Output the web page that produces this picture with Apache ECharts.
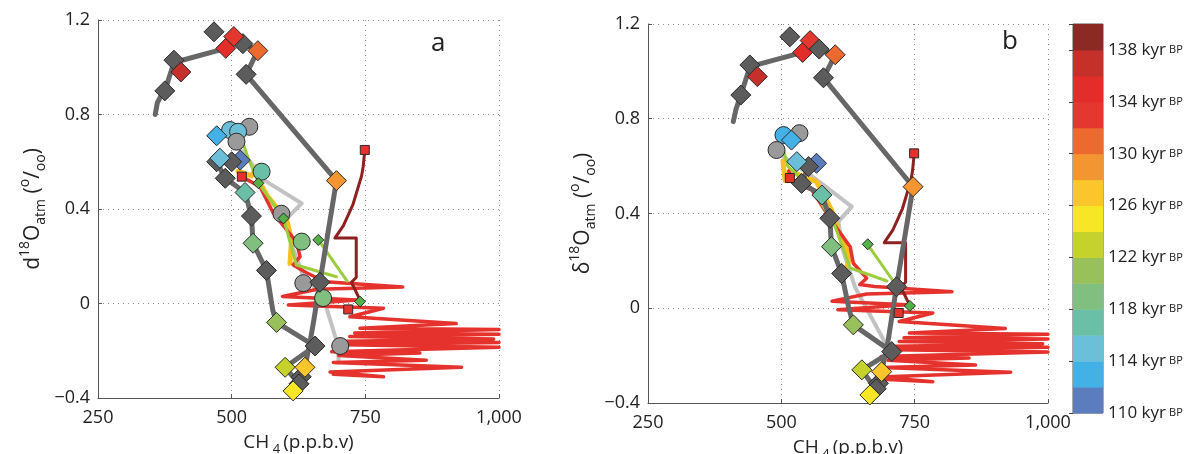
<!DOCTYPE html>
<html>
<head>
<meta charset="utf-8">
<script src="https://cdn.jsdelivr.net/npm/echarts@6/dist/echarts.min.js"></script>
<style>
    html, body {margin: 0; padding: 0; background: #fff;}
    #chart {width: 1187px; height: 454px;}
</style>
</head>
<body>
<div id="chart"></div>
<script>
    // colour scale (kyr BP)
    var ageEdges = [110, 112, 114, 116, 118, 120, 122, 124, 126, 128, 130, 132, 134, 136, 138, 140];
    var ageColors = ['#5b7dbd', '#44b1e6', '#6cbfd8', '#6bbfa7', '#80bf7f', '#98c15c', '#c5d22b', '#f7e626',
        '#fbc52c', '#f39530', '#ec6a2f', '#e4372f', '#e32d2a', '#c5302b', '#8b2a25'];
    var ageTicks = [110, 114, 118, 122, 126, 130, 134, 138];
    var ch4Ticks = [250, 500, 750, 1000];
    var d18oTicks = [-0.4, 0, 0.4, 0.8, 1.2];

    // panel a
    var grayPathA = [[357, 0.80], [361, 0.85], [368, 0.88], [375, 0.90], [385, 0.97], [392, 1.02], [489, 1.08], [504, 1.12],
        [521, 1.10], [549, 1.07], [527, 0.97], [696, 0.52], [665, 0.09], [653, -0.08], [646, -0.17], [637, -0.27],
        [630, -0.31], [615, -0.37], [626, -0.34], [600, -0.27], [656, -0.18], [584, -0.08], [577, -0.03], [565, 0.14],
        [540, 0.255], [537, 0.37], [525, 0.47], [488, 0.53], [472, 0.60], [500, 0.60]];
    var lightPathA = [[503, 0.69], [531, 0.61], [562, 0.52], [631, 0.424], [600, 0.353], [612, 0.25], [633, 0.12],
        [671, 0.029], [699, -0.18], [700, -0.25]];
    var yellowPathA = [[512, 0.56], [537, 0.54], [547, 0.58], [550, 0.52], [568, 0.452], [603, 0.353], [612, 0.27], [609, 0.17]];
    var redHeadA = [[519, 0.537], [553, 0.494], [578, 0.382], [603, 0.311], [621, 0.262], [628, 0.198], [615, 0.163],
        [640, 0.13], [675, 0.092]];
    var greenPathA = [[521, 0.68], [530, 0.62], [550, 0.51], [597, 0.36], [621, 0.163], [696, 0.113]];
    var diamondsA = [[375, 0.90, null], [392, 1.03, null], [405, 0.98, 137], [467, 1.15, null], [489, 1.08, 135],
        [521, 1.10, null], [504, 1.13, 133], [549, 1.07, 131], [527, 0.97, null], [696, 0.52, 129], [665, 0.09, null],
        [656, -0.18, null], [600, -0.27, 123], [630, -0.31, null], [626, -0.34, null], [637, -0.27, 127],
        [615, -0.37, 125], [584, -0.08, 121], [565, 0.14, null], [540, 0.255, 119], [537, 0.37, null],
        [525, 0.47, 117], [488, 0.53, null], [516, 0.607, 111], [472, 0.60, null], [500, 0.60, null],
        [478, 0.615, 115], [472, 0.71, 113]];
    var circlesA = [[533, 0.748, null], [497, 0.734, 115], [512, 0.727, 115], [509, 0.685, null], [556, 0.558, 117],
        [593, 0.38, null], [631, 0.262, 119], [634, 0.086, null], [671, 0.023, 119], [703, -0.18, null]];
    var smallGreenA = [[550, 0.509], [597, 0.36], [662, 0.269], [740, 0.008]];
    var squaresA = [[749, 0.65], [718, -0.025], [519, 0.537]];

    // panel b
    var grayPathB = [[410, 0.788], [415, 0.84], [424, 0.90], [434, 0.97], [441, 1.02], [540, 1.08], [554, 1.12],
        [571, 1.094], [601, 1.07], [579, 0.973], [747, 0.513], [716, 0.091], [700, -0.14], [688, -0.27],
        [682, -0.32], [666, -0.366], [676, -0.34], [651, -0.26], [707, -0.183], [635, -0.07], [626, 0.006],
        [613, 0.147], [594, 0.26], [591, 0.38], [576, 0.478], [538, 0.527], [551, 0.598], [529, 0.619]];
    var lightPathB = [[491, 0.668], [503, 0.64], [559, 0.555], [632, 0.429], [607, 0.366], [615, 0.25], [638, 0.09],
        [698, -0.16], [700, -0.20]];
    var yellowPathB = [[503, 0.62], [507, 0.54], [516, 0.58], [566, 0.534], [594, 0.415], [610, 0.302], [629, 0.217], [623, 0.175]];
    var redHeadB = [[514, 0.58], [520, 0.534], [557, 0.5], [597, 0.36], [629, 0.26], [635, 0.19], [660, 0.127],
        [647, 0.1], [675, 0.092]];
    var greenPathB = [[505, 0.66], [512, 0.6], [560, 0.5], [600, 0.35], [629, 0.17], [698, 0.115]];
    var diamondsB = [[424, 0.90, null], [441, 1.027, null], [455, 0.978, 137], [516, 1.146, null], [540, 1.08, 135],
        [554, 1.13, 133], [571, 1.094, null], [601, 1.07, 131], [579, 0.973, null], [747, 0.513, 129],
        [716, 0.091, null], [707, -0.183, null], [651, -0.26, 123], [682, -0.317, null], [678, -0.34, null],
        [688, -0.268, 127], [666, -0.366, 125], [635, -0.07, 121], [613, 0.147, null], [594, 0.26, 119],
        [591, 0.38, null], [576, 0.478, 117], [538, 0.527, null], [566, 0.612, 111], [551, 0.598, null],
        [529, 0.619, 115], [519, 0.71, 113]];
    var circlesB = [[534, 0.739, null], [504, 0.731, 113], [491, 0.668, null]];
    var smallGreenB = [[662, 0.27], [741, 0.01]];
    var squaresB = [[749, 0.654], [720, -0.02], [516, 0.55]];

    // shared ice-core traces
    var redZigzag = [[820, 0.07], [660, 0.06], [595, 0.03], [735, 0.015], [606, -0.006], [784, -0.02], [721, -0.056],
        [920, -0.085], [740, -0.105], [1000, -0.11], [730, -0.125], [1000, -0.13], [721, -0.14], [990, -0.15],
        [715, -0.16], [1000, -0.165], [710, -0.175], [1000, -0.185], [687, -0.204], [852, -0.21], [700, -0.22],
        [864, -0.24], [690, -0.25], [930, -0.27], [684, -0.29], [784, -0.31], [690, -0.30]];
    var darkRedPath = [[749, 0.65], [746, 0.58], [743, 0.54], [727, 0.42], [709, 0.33], [693, 0.277], [733, 0.277],
        [733, 0.11], [724, 0.09], [740, 0.015]];
    var greenPath2 = [[662, 0.269], [716, 0.095]];

    var FONT = '"Open Sans", "Noto Sans", sans-serif';

    function ageColor(age, fallback) {
        if (age == null) return fallback;
        for (var i = ageColors.length - 1; i >= 0; i--) {
            if (age >= ageEdges[i]) return ageColors[i];
        }
        return ageColors[0];
    }

    function line(idx, data, color, width, z) {
        return {
            type: 'line', xAxisIndex: idx, yAxisIndex: idx, data: data, symbol: 'none', z: z,
            lineStyle: {color: color, width: width, cap: 'round', join: 'round'}, silent: true
        };
    }

    function marks(idx, data, symbol, size, fallback, z) {
        return {
            type: 'scatter', xAxisIndex: idx, yAxisIndex: idx, symbol: symbol, symbolSize: size, z: z,
            itemStyle: {borderColor: '#2a2a2a', borderWidth: 1, opacity: 1},
            data: data.map(function (d) {
                return {value: [d[0], d[1]], itemStyle: {color: ageColor(d[2], fallback)}};
            })
        };
    }

    function panel(idx, p) {
        return [
            line(idx, p.light, '#c2c2c2', 4, 2),
            line(idx, p.yellow, '#fbbf22', 5, 3),
            line(idx, p.red.concat(redZigzag), '#e5322d', 3.5, 4),
            line(idx, p.green, '#9ccd3e', 3, 5),
            line(idx, greenPath2, '#9ccd3e', 3, 5),
            line(idx, darkRedPath, '#8e2020', 3, 5),
            line(idx, p.gray, '#676767', 5, 6),
            marks(idx, p.circles, 'circle', 17, '#9a9a9a', 7),
            marks(idx, p.diamonds, 'diamond', 20, '#5c5c5c', 8),
            marks(idx, p.smallGreen, 'diamond', 11, '#55b048', 9),
            marks(idx, p.squares, 'rect', 9, '#e5322d', 9)
        ];
    }

    function xAxisFor(idx) {
        return {
            gridIndex: idx, type: 'value', min: ch4Ticks[0], max: ch4Ticks[ch4Ticks.length - 1],
            interval: ch4Ticks[1] - ch4Ticks[0],
            axisLine: {show: true, onZero: false, lineStyle: {color: '#555', width: 1}},
            axisTick: {show: true, inside: true, length: 4, lineStyle: {color: '#555'}},
            axisLabel: {
                color: '#222', fontSize: 18, fontFamily: FONT, margin: 11,
                formatter: function (v) { return v >= 1000 ? '1,000' : String(v); }
            },
            splitLine: {show: true, lineStyle: {type: [1, 4], color: '#888', width: 1}},
            name: '{n|CH}{s| 4} {n|(p.p.b.v)}', nameLocation: 'middle', nameGap: 32,
            nameTextStyle: {
                color: '#222', fontFamily: FONT,
                rich: {
                    n: {fontSize: 19, fontFamily: FONT, color: '#222', lineHeight: 26},
                    s: {fontSize: 13, fontFamily: FONT, color: '#222', verticalAlign: 'bottom', lineHeight: 13}
                }
            }
        };
    }

    function yAxisFor(idx, delta) {
        return {
            gridIndex: idx, type: 'value', min: d18oTicks[0], max: d18oTicks[d18oTicks.length - 1],
            interval: d18oTicks[1] - d18oTicks[0],
            axisLine: {show: true, onZero: false, lineStyle: {color: '#555', width: 1}},
            axisTick: {show: true, inside: true, length: 4, lineStyle: {color: '#555'}},
            axisLabel: {
                color: '#222', fontSize: 18, fontFamily: FONT, margin: 8,
                formatter: function (v) {
                    v = Math.round(v * 10) / 10;
                    if (v === 0) return '0';
                    return v < 0 ? '\u2212' + (-v).toFixed(1) : v.toFixed(1);
                }
            },
            splitLine: {show: true, lineStyle: {type: [1, 4], color: '#888', width: 1}},
            name: '{m|' + delta + '}{p|18}{m|O}{b|atm}{m| (}{p|o}{m|/}{b|oo}{m|)}',
            nameLocation: 'middle', nameRotate: 90, nameGap: 50,
            nameTextStyle: {
                color: '#222', fontFamily: FONT,
                rich: {
                    m: {fontSize: 21, fontFamily: FONT, color: '#222', lineHeight: 30},
                    p: {fontSize: 14, fontFamily: FONT, color: '#222', verticalAlign: 'top', lineHeight: 14},
                    b: {fontSize: 14, fontFamily: FONT, color: '#222', verticalAlign: 'bottom', lineHeight: 14}
                }
            }
        };
    }

    var myChart = echarts.init(document.getElementById('chart'));

    var bands = [];
    for (var i = 0; i < ageColors.length; i++) {
        bands.push([ageEdges[i], ageEdges[i + 1], i]);
    }

    var series = panel(0, {
        gray: grayPathA, light: lightPathA, yellow: yellowPathA, red: redHeadA, green: greenPathA,
        diamonds: diamondsA, circles: circlesA, smallGreen: smallGreenA, squares: squaresA
    }).concat(panel(1, {
        gray: grayPathB, light: lightPathB, yellow: yellowPathB, red: redHeadB, green: greenPathB,
        diamonds: diamondsB, circles: circlesB, smallGreen: smallGreenB, squares: squaresB
    }));

    series.push({
        type: 'custom', xAxisIndex: 2, yAxisIndex: 2, data: bands, silent: true,
        encode: {x: -1, y: [0, 1]},
        renderItem: function (params, api) {
            var lo = api.coord([0, api.value(0)]);
            var hi = api.coord([1, api.value(1)]);
            return {
                type: 'rect',
                shape: {x: lo[0], y: hi[1], width: hi[0] - lo[0], height: lo[1] - hi[1] + 0.5},
                style: {fill: ageColors[api.value(2)]}
            };
        }
    });

    myChart.setOption({
        animation: false,
        backgroundColor: '#fff',
        grid: [
            {left: 98, top: 20, width: 401, height: 378, outerBoundsMode: 'none'},
            {left: 648, top: 24, width: 400, height: 379, outerBoundsMode: 'none'},
            {left: 1073, top: 24, width: 30, height: 389, outerBoundsMode: 'none', show: true,
                borderColor: '#555', borderWidth: 1, backgroundColor: 'transparent'}
        ],
        xAxis: [xAxisFor(0), xAxisFor(1), {
            gridIndex: 2, type: 'value', min: 0, max: 1, show: false
        }],
        yAxis: [yAxisFor(0, 'd'), yAxisFor(1, '\u03b4'), {
            gridIndex: 2, type: 'value', position: 'right', min: ageEdges[0], max: ageEdges[ageEdges.length - 1],
            interval: ageTicks[1] - ageTicks[0],
            axisLine: {show: false},
            axisTick: {show: true, inside: true, length: 4, lineStyle: {color: '#444'}},
            splitLine: {show: false},
            axisLabel: {
                margin: 5, color: '#222', fontFamily: FONT,
                formatter: function (v) {
                    return ageTicks.indexOf(v) < 0 ? '' : '{n|' + v + ' kyr} {s|BP}';
                },
                rich: {
                    n: {fontSize: 17, fontFamily: FONT, color: '#222'},
                    s: {fontSize: 11, fontFamily: FONT, color: '#222'}
                }
            }
        }],
        graphic: [
            {type: 'text', left: 431, top: 31, style: {text: 'a', fontSize: 26, fontFamily: FONT, fill: '#222'}},
            {type: 'text', left: 1002, top: 29, style: {text: 'b', fontSize: 26, fontFamily: FONT, fill: '#222'}}
        ],
        series: series
    });

    window.onresize = function () {
        myChart.resize();
    };
</script>
</body>
</html>
